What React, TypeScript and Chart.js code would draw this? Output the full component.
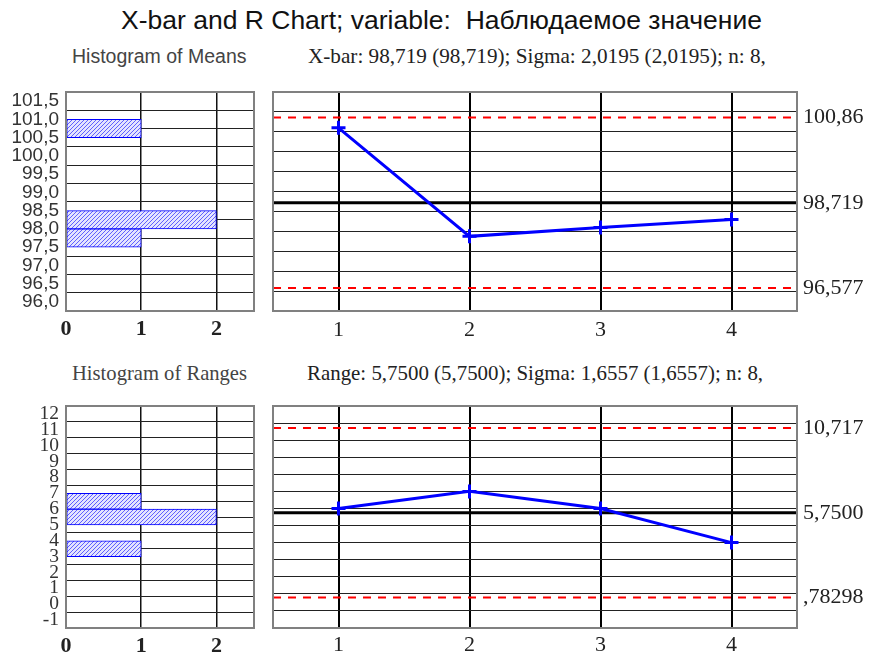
import React, { useEffect, useRef } from 'react';
import { Chart, registerables } from 'chart.js';

Chart.register(...registerables);

// ---- Text ----
const TITLE = 'X-bar and R Chart; variable:  Наблюдаемое значение';
const MEANS_HIST_TITLE = 'Histogram of Means';
const MEANS_SUBTITLE = 'X-bar: 98,719 (98,719); Sigma: 2,0195 (2,0195); n: 8,';
const RANGES_HIST_TITLE = 'Histogram of Ranges';
const RANGES_SUBTITLE = 'Range: 5,7500 (5,7500); Sigma: 1,6557 (1,6557); n: 8,';

// ---- Data ----
const SAMPLES = [1, 2, 3, 4];
const MEANS = [100.6, 97.875, 98.1, 98.3];
const RANGES = [6, 7, 6, 4];

const MEAN_LIMITS = [100.86, 98.719, 96.577]; // UCL, CL, LCL
const RANGE_LIMITS = [10.717, 5.75, 0.78298]; // UCL, CL, LCL

const MEAN_BIN_CENTERS = [96.25, 96.75, 97.25, 97.75, 98.25, 98.75, 99.25, 99.75, 100.25, 100.75, 101.25];
const MEAN_BIN_COUNTS = [0, 0, 0, 1, 2, 0, 0, 0, 0, 1, 0];
const RANGE_BIN_CENTERS = [-0.5, 0.5, 1.5, 2.5, 3.5, 4.5, 5.5, 6.5, 7.5, 8.5, 9.5, 10.5, 11.5];
const RANGE_BIN_COUNTS = [0, 0, 0, 0, 1, 0, 2, 1, 0, 0, 0, 0, 0];

const MEAN_AXIS = [96, 101.5, 0.5]; // min, max, step
const RANGE_AXIS = [-1, 12, 1];
const COUNT_TICKS = [0, 1, 2];
const COUNT_MAX = 2.5;
const SAMPLE_MIN = 0.5;
const SAMPLE_MAX = 4.5;

const SERIF = "'Liberation Serif', 'Times New Roman', serif";
const SANS = "'Liberation Sans', Arial, sans-serif";

const fmtLimit = (v: number) => v.toPrecision(5).replace(/^0\./, '.').replace('.', ',');

const noPad = (s: any) => {
  s.paddingTop = 0;
  s.paddingBottom = 0;
  s.paddingLeft = 0;
  s.paddingRight = 0;
};

const boxPlugin = {
  id: 'boxFrame',
  afterDatasetsDraw(chart: any) {
    const { ctx, chartArea: a } = chart;
    ctx.save();
    ctx.strokeStyle = '#808080';
    ctx.lineWidth = 2;
    ctx.strokeRect(a.left, a.top, a.right - a.left, a.bottom - a.top);
    ctx.restore();
  },
};

function makeHatch(): CanvasPattern | string {
  const c = document.createElement('canvas');
  c.width = 4;
  c.height = 4;
  const g = c.getContext('2d');
  if (!g) return '#c0c0ff';
  g.fillStyle = '#e4e4ff';
  g.fillRect(0, 0, 4, 4);
  g.strokeStyle = '#6060ff';
  g.lineWidth = 1;
  g.beginPath();
  g.moveTo(0, 4);
  g.lineTo(4, 0);
  g.moveTo(-1, 1);
  g.lineTo(1, -1);
  g.moveTo(3, 5);
  g.lineTo(5, 3);
  g.stroke();
  return g.createPattern(c, 'repeat') || '#c0c0ff';
}

function histConfig(centers: number[], counts: number[], axis: number[], yFont: any, yFmt: (v: number) => string, plot: { top: number; xAxisH: number }) {
  return {
    type: 'bar',
    data: {
      datasets: [
        {
          data: centers.map((c, i) => ({ x: counts[i], y: c })),
          backgroundColor: makeHatch(),
          borderColor: '#0000ff',
          borderWidth: (ctx: any) => (ctx.raw && ctx.raw.x > 0 ? 1 : 0),
          borderSkipped: false,
          barPercentage: 1,
          categoryPercentage: 1,
        },
      ],
    },
    options: {
      indexAxis: 'y',
      responsive: false,
      animation: false,
      devicePixelRatio: 1,
      layout: { padding: { top: plot.top, right: 8, left: 0, bottom: 0 } },
      plugins: { legend: { display: false }, tooltip: { enabled: false } },
      scales: {
        x: {
          type: 'linear',
          min: 0,
          max: COUNT_MAX,
          afterBuildTicks: (s: any) => {
            s.ticks = COUNT_TICKS.map((v) => ({ value: v }));
          },
          afterFit: (s: any) => {
            s.height = plot.xAxisH;
            noPad(s);
          },
          grid: { color: '#111', lineWidth: 1.5, drawTicks: false },
          border: { display: false },
          ticks: { color: '#222', padding: 5, font: { family: SERIF, size: 22, weight: 'bold' }, autoSkip: false, maxRotation: 0 },
        },
        y: {
          type: 'linear',
          min: axis[0],
          max: axis[1],
          ticks: {
            stepSize: axis[2],
            color: '#333',
            padding: 7,
            font: yFont,
            autoSkip: false,
            callback: (v: any) => yFmt(Number(v)),
          },
          afterFit: (s: any) => {
            s.width = 66;
            noPad(s);
          },
          grid: { color: '#222', lineWidth: 1, drawTicks: false },
          border: { display: false },
        },
      },
    },
    plugins: [boxPlugin],
  };
}

function controlConfig(values: number[], limits: number[], axis: number[], plot: { top: number; xAxisH: number; xPad: number }) {
  const [ucl, cl, lcl] = limits;
  const flat = (v: number) => [
    { x: SAMPLE_MIN, y: v },
    { x: SAMPLE_MAX, y: v },
  ];
  return {
    type: 'line',
    data: {
      datasets: [
        {
          data: SAMPLES.map((s, i) => ({ x: s, y: values[i] })),
          borderColor: '#0000ff',
          borderWidth: 3,
          pointStyle: 'cross',
          pointRadius: 7,
          pointBorderWidth: 3,
          pointBorderColor: '#0000ff',
          tension: 0,
        },
        { data: flat(cl), borderColor: '#000', borderWidth: 3, pointRadius: 0 },
        { data: flat(ucl), borderColor: '#ff0000', borderWidth: 2, borderDash: [8, 7], pointRadius: 0 },
        { data: flat(lcl), borderColor: '#ff0000', borderWidth: 2, borderDash: [8, 7], pointRadius: 0 },
      ],
    },
    options: {
      responsive: false,
      animation: false,
      devicePixelRatio: 1,
      layout: { padding: { top: plot.top, left: 11, right: 0, bottom: 0 } },
      plugins: { legend: { display: false }, tooltip: { enabled: false } },
      scales: {
        x: {
          type: 'linear',
          min: SAMPLE_MIN,
          max: SAMPLE_MAX,
          afterBuildTicks: (s: any) => {
            s.ticks = SAMPLES.map((v) => ({ value: v }));
          },
          afterFit: (s: any) => {
            s.height = plot.xAxisH;
            noPad(s);
          },
          grid: { color: '#000', lineWidth: 2, drawTicks: false },
          border: { display: false },
          ticks: { color: '#222', padding: plot.xPad, font: { family: SERIF, size: 22 }, autoSkip: false, maxRotation: 0 },
        },
        y: {
          type: 'linear',
          min: axis[0],
          max: axis[1],
          ticks: { stepSize: axis[2], display: false, autoSkip: false },
          afterFit: (s: any) => {
            s.width = 0;
            noPad(s);
          },
          grid: { color: '#222', lineWidth: 1, drawTicks: false },
          border: { display: false },
        },
        y2: {
          type: 'linear',
          position: 'right',
          min: axis[0],
          max: axis[1],
          afterBuildTicks: (s: any) => {
            s.ticks = [ucl, cl, lcl].map((v) => ({ value: v }));
          },
          afterFit: (s: any) => {
            s.width = 73;
            noPad(s);
          },
          ticks: {
            color: '#222',
            padding: 6,
            autoSkip: false,
            font: { family: SERIF, size: 22 },
            callback: (v: any) => fmtLimit(Number(v)),
          },
          grid: { display: false, drawTicks: false },
          border: { display: false },
        },
      },
    },
    plugins: [boxPlugin],
  };
}

function ChartBox(props: { left: number; top: number; width: number; height: number; build: () => any }) {
  const ref = useRef<HTMLCanvasElement>(null);
  useEffect(() => {
    if (!ref.current) return;
    const chart = new Chart(ref.current, props.build());
    return () => chart.destroy();
  }, []);
  return (
    <canvas
      ref={ref}
      width={props.width}
      height={props.height}
      style={{ position: 'absolute', left: props.left, top: props.top, width: props.width, height: props.height }}
    />
  );
}

function Label(props: { text: string; left: number; cy: number; size: number; family: string; color: string }) {
  return (
    <div
      style={{
        position: 'absolute',
        left: props.left,
        top: props.cy - props.size / 2,
        fontFamily: props.family,
        fontSize: props.size,
        lineHeight: `${props.size}px`,
        color: props.color,
        whiteSpace: 'pre',
      }}
    >
      {props.text}
    </div>
  );
}

export default function App() {
  const topPlot = { top: 12, xAxisH: 39, xPad: 6 };
  const botPlot = { top: 11, xAxisH: 26, xPad: 4 };
  return (
    <div style={{ position: 'absolute', left: 0, top: 0, width: 870, height: 654, background: '#fff', overflow: 'hidden' }}>
      <Label text={TITLE} left={121} cy={20} size={26.5} family={SANS} color="#111" />
      <Label text={MEANS_HIST_TITLE} left={72} cy={57} size={19.5} family={SANS} color="#444" />
      <Label text={MEANS_SUBTITLE} left={308} cy={57} size={21.2} family={SERIF} color="#222" />
      <Label text={RANGES_HIST_TITLE} left={72} cy={373} size={20.6} family={SERIF} color="#444" />
      <Label text={RANGES_SUBTITLE} left={307} cy={373} size={20.9} family={SERIF} color="#222" />

      <ChartBox
        left={0}
        top={80}
        width={262}
        height={270}
        build={() =>
          histConfig(MEAN_BIN_CENTERS, MEAN_BIN_COUNTS, MEAN_AXIS, { family: SANS, size: 19 }, (v) => v.toFixed(1).replace('.', ','), topPlot)
        }
      />
      <ChartBox left={262} top={80} width={608} height={270} build={() => controlConfig(MEANS, MEAN_LIMITS, MEAN_AXIS, topPlot)} />
      <ChartBox
        left={0}
        top={395}
        width={262}
        height={259}
        build={() =>
          histConfig(RANGE_BIN_CENTERS, RANGE_BIN_COUNTS, RANGE_AXIS, { family: SERIF, size: 19.5 }, (v) => String(v), botPlot)
        }
      />
      <ChartBox left={262} top={395} width={608} height={259} build={() => controlConfig(RANGES, RANGE_LIMITS, RANGE_AXIS, botPlot)} />
    </div>
  );
}
